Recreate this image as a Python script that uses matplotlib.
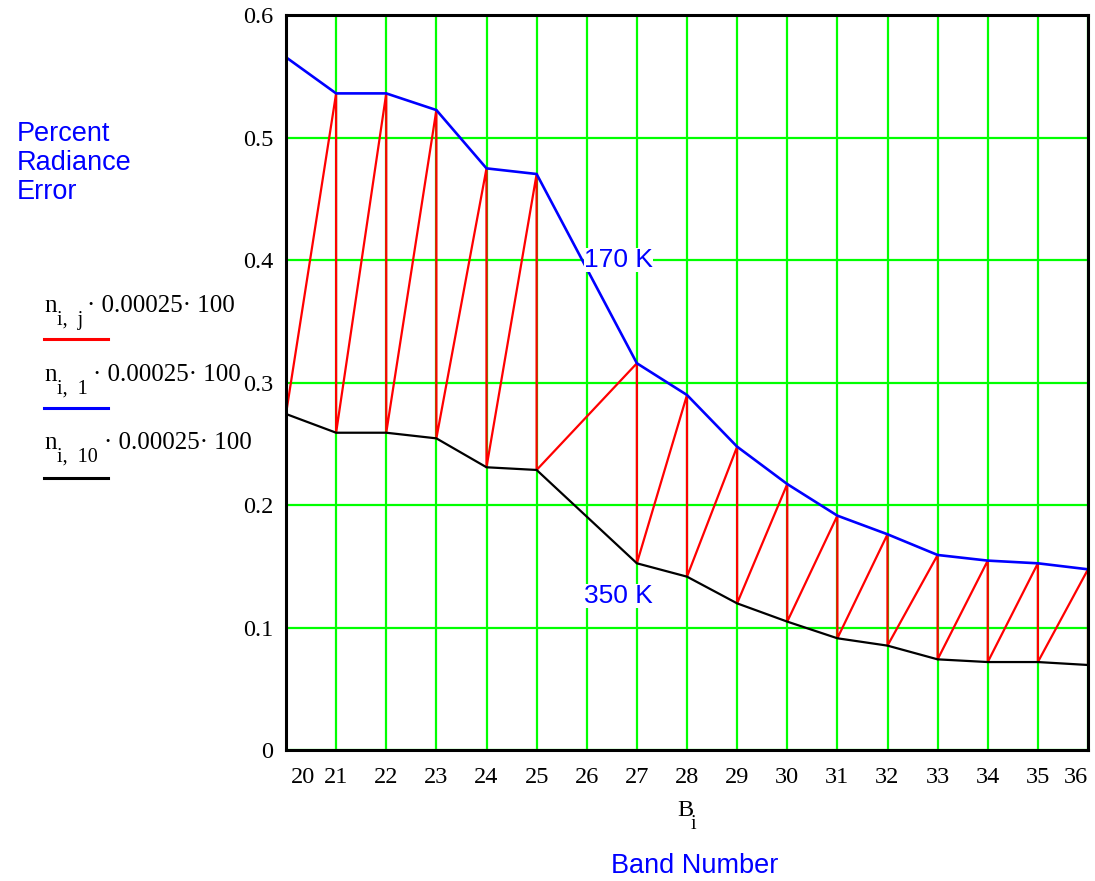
import numpy as np
import matplotlib.pyplot as plt
from matplotlib.transforms import ScaledTranslation

# band numbers (band 26 is not in the data)
bands = [20, 21, 22, 23, 24, 25, 27, 28, 29, 30, 31, 32, 33, 34, 35, 36]
# percent radiance error, column j=1 (170 K) and j=10 (350 K)
err_170 = [0.5655, 0.536, 0.536, 0.5224, 0.4748, 0.4702, 0.3157, 0.2898,
           0.2476, 0.2171, 0.1913, 0.1761, 0.1592, 0.1546, 0.1524, 0.1475]
err_350 = [0.2743, 0.259, 0.259, 0.2544, 0.2308, 0.2286, 0.1524, 0.1415,
           0.1197, 0.1048, 0.0912, 0.0852, 0.074, 0.0718, 0.0718, 0.0694]
x_ticks = list(range(20, 37))
y_ticks = [0, 0.1, 0.2, 0.3, 0.4, 0.5, 0.6]

W, H = 1095, 881
serif = 'Liberation Serif'
sans = 'Liberation Sans'


def px(x, y):
    return x / W, 1 - y / H


fig = plt.figure(figsize=(W / 100, H / 100), dpi=100)
ax = fig.add_axes([286 / W, 1 - 750 / H, 802 / W, 735 / H])

# red trace: all j for each i, then jump to next i
red_x, red_y = [], []
for b, top, bot in zip(bands, err_170, err_350):
    red_x += [b, b]
    red_y += [top, bot]

ax.plot(red_x, red_y, color='#ff0000', lw=1.6, zorder=3)
ax.plot(bands, err_170, color='#0000ff', lw=1.9, zorder=4)
ax.plot(bands, err_350, color='black', lw=1.6, zorder=4)

ax.set_xlim(20, 36)
ax.set_ylim(0, 0.6)
ax.set_xticks(x_ticks)
ax.set_xticklabels([str(v) for v in x_ticks])
ax.set_yticks(y_ticks)
ax.set_yticklabels(['0'] + ['%.1f' % v for v in y_ticks[1:]])
ax.tick_params(length=0, labelsize=17.5)
ax.tick_params(axis='x', pad=12)
ax.tick_params(axis='y', pad=9)
for lab in ax.get_xticklabels() + ax.get_yticklabels():
    lab.set_fontfamily(serif)
xl = ax.get_xticklabels()
xl[0].set_ha('left')
xl[0].set_transform(xl[0].get_transform() + ScaledTranslation(0.05, 0, fig.dpi_scale_trans))
xl[-1].set_ha('right')

ax.grid(True, color='#00ff00', lw=1.6, zorder=1)
ax.set_axisbelow(True)
for s in ax.spines.values():
    s.set_linewidth(2.2)
    s.set_zorder(5)

# curve labels
ax.text(25.95, 0.4, '170 K', color='#0000ff', fontsize=19, family=sans,
        ha='left', va='center', zorder=6,
        bbox=dict(facecolor='white', edgecolor='none', pad=0))
ax.text(25.95, 0.126, '350 K', color='#0000ff', fontsize=19, family=sans,
        ha='left', va='center', zorder=6,
        bbox=dict(facecolor='white', edgecolor='none', pad=0))

# axis titles
for word, yb in [('Percent', 141), ('Radiance', 170), ('Error', 199)]:
    fig.text(*px(17, yb), word, color='#0000ff', fontsize=19.5, family=sans,
             ha='left', va='baseline')
fig.text(*px(695, 866), 'Band Number', color='#0000ff', fontsize=19.5,
         family=sans, ha='center', va='center')
fig.text(*px(677, 816), 'B', fontsize=17.5, family=serif, ha='left', va='baseline')
fig.text(*px(691, 829), 'i', fontsize=14.5, family=serif, ha='left', va='baseline')

# legend (Mathcad style)
rows = [('i,  j', 312, 87, 339, '#ff0000'),
        ('i,  1', 381, 93, 408, '#0000ff'),
        ('i,  10', 449, 104, 478, 'black')]
for sub, base, xrest, yline, col in rows:
    fig.text(*px(44, base), 'n', fontsize=18, family=serif, va='baseline')
    fig.text(*px(57, base + 13), sub, fontsize=14.5, family=serif, va='baseline')
    fig.text(*px(xrest, base), '\u00b7 0.00025\u00b7 100', fontsize=18, family=serif,
             va='baseline', zorder=10,
             bbox=dict(facecolor='white', edgecolor='none', pad=0))
    fig.add_artist(plt.Line2D([44 / W, 108 / W], [1 - yline / H, 1 - yline / H],
                              color=col, lw=2.2))

fig.savefig('out.png', dpi=100)
